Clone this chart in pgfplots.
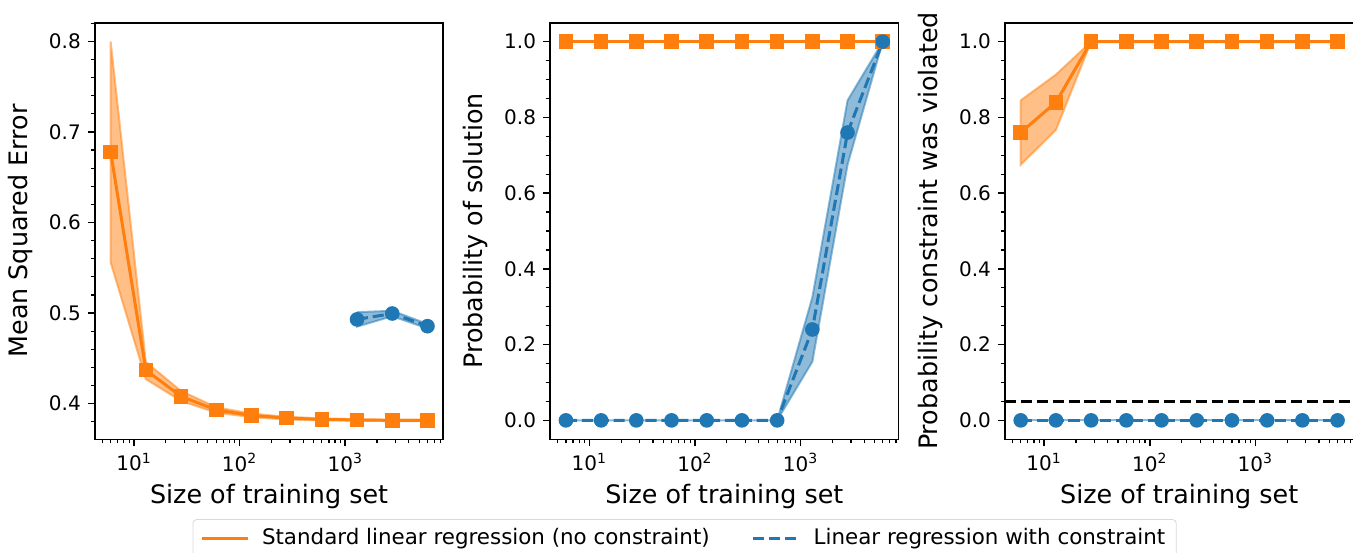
\documentclass[border=0pt]{standalone}
\usepackage{pgfplots}
\pgfplotsset{compat=1.18}
\usepackage{fontspec}
\setmainfont{DejaVu Sans}
\definecolor{cblue}{HTML}{1F77B4}
\definecolor{corange}{HTML}{FF7F0E}

\tikzset{
  bandO/.style={fill=corange, fill opacity=0.5, draw=corange, draw opacity=0.5, line width=1pt},
  bandB/.style={fill=cblue, fill opacity=0.5, draw=cblue, draw opacity=0.5, line width=1pt},
  lineO/.style={color=corange, line width=1.5pt, mark=square*, mark size=2.9pt},
  lineB/.style={color=cblue, line width=1.5pt, dash pattern=on 5.55pt off 2.4pt, mark=*, mark size=2.9pt, mark options={solid}},
}

\begin{document}
\begin{tikzpicture}
\path[use as bounding box] (0,0) rectangle (676.5pt,-276pt);

% Panel 1: mean squared error
\begin{axis}[at={(47.4pt,-219.65pt)}, anchor=south west,
    scale only axis, width=174.25pt, height=208.3pt,
    xmode=log, xmin=4.25, xmax=8473,
    xtick={10,100,1000},
    xticklabels={10\textsuperscript{1},10\textsuperscript{2},10\textsuperscript{3}},
    minor xtick={5,6,7,8,9,20,30,40,50,60,70,80,90,200,300,400,500,600,700,800,900,2000,3000,4000,5000,6000,7000,8000},
    tick align=outside, tick pos=left,
    major tick length=3.5pt, minor tick length=2pt,
    major tick style={line width=0.8pt, black},
    minor tick style={line width=0.6pt, black},
    axis line style={line width=0.8pt},
    tick label style={font=\fontsize{10}{12}\selectfont},
    label style={font=\fontsize{12.7}{15}\selectfont},
    xlabel={Size of training set},
    xlabel style={at={(axis description cs:0.5,-0.1536)}, anchor=base},
    ylabel style={at={(axis description cs:-0.1777,0.5)}, anchor=south, inner sep=0pt},
    ymin=0.3606, ymax=0.8206,
    ytick={0.4,0.5,0.6,0.7,0.8},
    yticklabels={0.4,0.5,0.6,0.7,0.8},
    minor ytick={0.36,0.38,0.42,0.44,0.46,0.48,0.52,0.54,0.56,0.58,0.62,0.64,0.66,0.68,0.72,0.74,0.76,0.78,0.82},
    ylabel={Mean Squared Error}]
\addplot [bandO, forget plot] coordinates {
  (6,0.800) (12.93,0.446) (27.85,0.414) (60,0.396) (129.3,0.389)
  (278.5,0.3855) (600,0.3837) (1292.6,0.3828) (2784.8,0.3822) (6000,0.3822)
  (6000,0.3808) (2784.8,0.3808) (1292.6,0.3812) (600,0.3815) (278.5,0.3825)
  (129.3,0.385) (60,0.390) (27.85,0.403) (12.93,0.427) (6,0.556) (6,0.800)};
\addplot [lineO] coordinates {
  (6,0.678) (12.93,0.437) (27.85,0.408) (60,0.393) (129.3,0.387)
  (278.5,0.384) (600,0.3826) (1292.6,0.382) (2784.8,0.3815) (6000,0.3815)};
\addplot [bandB, forget plot] coordinates {
  (1292.6,0.501) (2784.8,0.5025) (6000,0.488)
  (6000,0.483) (2784.8,0.4965) (1292.6,0.485) (1292.6,0.501)};
\addplot [lineB] coordinates {
  (1292.6,0.493) (2784.8,0.4995) (6000,0.4855)};
\end{axis}

% Panel 2: probability of solution
\begin{axis}[at={(275.05pt,-219.65pt)}, anchor=south west,
    scale only axis, width=174.25pt, height=208.3pt,
    xmode=log, xmin=4.25, xmax=8473,
    xtick={10,100,1000},
    xticklabels={10\textsuperscript{1},10\textsuperscript{2},10\textsuperscript{3}},
    minor xtick={5,6,7,8,9,20,30,40,50,60,70,80,90,200,300,400,500,600,700,800,900,2000,3000,4000,5000,6000,7000,8000},
    tick align=outside, tick pos=left,
    major tick length=3.5pt, minor tick length=2pt,
    major tick style={line width=0.8pt, black},
    minor tick style={line width=0.6pt, black},
    axis line style={line width=0.8pt},
    tick label style={font=\fontsize{10}{12}\selectfont},
    label style={font=\fontsize{12.7}{15}\selectfont},
    xlabel={Size of training set},
    xlabel style={at={(axis description cs:0.5,-0.1536)}, anchor=base},
    ylabel style={at={(axis description cs:-0.1777,0.5)}, anchor=south, inner sep=0pt},
    ymin=-0.05, ymax=1.05,
    ytick={0,0.2,0.4,0.6,0.8,1.0},
    yticklabels={0.0,0.2,0.4,0.6,0.8,1.0},
    minor ytick={0.05,0.1,0.15,0.25,0.3,0.35,0.45,0.5,0.55,0.65,0.7,0.75,0.85,0.9,0.95},
    ylabel={Probability of solution},
    legend columns=2,
    legend image code/.code={\draw[#1] (0pt,0pt) -- (23pt,0pt);},
    legend style={at={(axis description cs:-1.0258,-0.1913)}, anchor=north west,
      draw=black!15, rounded corners=2pt, fill=white,
      font=\fontsize{10.7}{12.5}\selectfont,
      inner xsep=3.5pt, inner ysep=2.5pt,
      /tikz/every odd column/.append style={column sep=4.5pt},
      /tikz/every even column/.append style={column sep=19pt}}]
\addplot [lineO] coordinates {
  (6,1) (12.93,1) (27.85,1) (60,1) (129.3,1)
  (278.5,1) (600,1) (1292.6,1) (2784.8,1) (6000,1)};
\addlegendentry{Standard linear regression (no constraint)}
\addplot [bandB, forget plot] coordinates {
  (6,0) (12.93,0) (27.85,0) (60,0) (129.3,0) (278.5,0) (600,0)
  (1292.6,0.325) (2784.8,0.845) (6000,1)
  (6000,1) (2784.8,0.675) (1292.6,0.155)
  (600,0) (278.5,0) (129.3,0) (60,0) (27.85,0) (12.93,0) (6,0)};
\addplot [lineB] coordinates {
  (6,0) (12.93,0) (27.85,0) (60,0) (129.3,0)
  (278.5,0) (600,0) (1292.6,0.24) (2784.8,0.76) (6000,1)};
\addlegendentry{Linear regression with constraint}
\end{axis}

% Panel 3: probability constraint was violated
\begin{axis}[at={(502.45pt,-219.65pt)}, anchor=south west,
    scale only axis, width=174.25pt, height=208.3pt,
    xmode=log, xmin=4.25, xmax=8473,
    xtick={10,100,1000},
    xticklabels={10\textsuperscript{1},10\textsuperscript{2},10\textsuperscript{3}},
    minor xtick={5,6,7,8,9,20,30,40,50,60,70,80,90,200,300,400,500,600,700,800,900,2000,3000,4000,5000,6000,7000,8000},
    tick align=outside, tick pos=left,
    major tick length=3.5pt, minor tick length=2pt,
    major tick style={line width=0.8pt, black},
    minor tick style={line width=0.6pt, black},
    axis line style={line width=0.8pt},
    tick label style={font=\fontsize{10}{12}\selectfont},
    label style={font=\fontsize{12.7}{15}\selectfont},
    xlabel={Size of training set},
    xlabel style={at={(axis description cs:0.5,-0.1536)}, anchor=base},
    ylabel style={at={(axis description cs:-0.1777,0.5)}, anchor=south, inner sep=0pt},
    ymin=-0.05, ymax=1.05,
    ytick={0,0.2,0.4,0.6,0.8,1.0},
    yticklabels={0.0,0.2,0.4,0.6,0.8,1.0},
    minor ytick={0.05,0.1,0.15,0.25,0.3,0.35,0.45,0.5,0.55,0.65,0.7,0.75,0.85,0.9,0.95},
    ylabel={Probability constraint was violated}]
\addplot [bandO, forget plot] coordinates {
  (6,0.845) (12.93,0.913) (27.85,1) (60,1) (129.3,1)
  (278.5,1) (600,1) (1292.6,1) (2784.8,1) (6000,1)
  (6000,1) (2784.8,1) (1292.6,1) (600,1) (278.5,1)
  (129.3,1) (60,1) (27.85,1) (12.93,0.767) (6,0.675) (6,0.845)};
\addplot [lineO] coordinates {
  (6,0.76) (12.93,0.84) (27.85,1) (60,1) (129.3,1)
  (278.5,1) (600,1) (1292.6,1) (2784.8,1) (6000,1)};
\addplot [bandB, forget plot] coordinates {
  (6,0) (12.93,0) (27.85,0) (60,0) (129.3,0) (278.5,0) (600,0)
  (1292.6,0) (2784.8,0) (6000,0)};
\addplot [lineB] coordinates {
  (6,0) (12.93,0) (27.85,0) (60,0) (129.3,0)
  (278.5,0) (600,0) (1292.6,0) (2784.8,0) (6000,0)};
\addplot [black, line width=1.5pt, dash pattern=on 5.55pt off 2.4pt, forget plot]
  coordinates {(4.25,0.05) (8473,0.05)};
\end{axis}
\end{tikzpicture}
\end{document}
